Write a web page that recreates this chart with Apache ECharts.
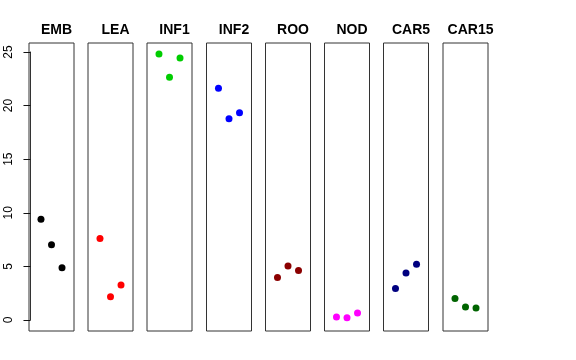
<!DOCTYPE html>
<html><head><meta charset="utf-8">
<script src="https://cdn.jsdelivr.net/npm/echarts@6/dist/echarts.min.js"></script>
<style>html,body{margin:0;padding:0;background:#fff}#c{width:576px;height:360px}</style>
</head><body><div id="c"></div>
<script>
const panels = ['EMB','LEA','INF1','INF2','ROO','NOD','CAR5','CAR15'];
const colors = ['#000000','#FF0000','#00CD00','#0000FF','#8B0000','#FF00FF','#000080','#006400'];
const xPositions = [1,2,3];
const values = [
  [9.40, 7.01, 4.87],
  [7.60, 2.17, 3.26],
  [24.82, 22.65, 24.45],
  [21.63, 18.77, 19.33],
  [3.97, 5.03, 4.62],
  [0.28, 0.21, 0.65],
  [2.94, 4.38, 5.21],
  [2.01, 1.21, 1.12]
];
const yMin = 0, yMax = 25, yStep = 5;

const lefts = [29, 88, 147, 206.5, 265.5, 324.5, 383.5, 443];
const n = panels.length;
const grids = [], xAxes = [], yAxes = [], series = [], titles = [];
// frame grids
panels.forEach((p, i) => {
  grids.push({left: lefts[i], top: 43, width: 45, height: 288, show: true, borderColor: '#333', borderWidth: 1, backgroundColor: 'transparent'});
  xAxes.push({type: 'value', gridIndex: i, min: 0, max: 1, show: false});
  yAxes.push({type: 'value', gridIndex: i, min: 0, max: 1, show: false});
});
// data grids
panels.forEach((p, i) => {
  const g = n + i;
  grids.push({left: lefts[i], top: 52, width: 45, height: 268, show: false});
  xAxes.push({type: 'value', gridIndex: g, min: -0.14, max: 4.14, show: false});
  yAxes.push({type: 'value', gridIndex: g, min: yMin, max: yMax, interval: yStep,
    show: i === 0,
    axisLine: {show: true, lineStyle: {color: '#333', width: 1}}, splitLine: {show: false},
    axisTick: {show: true, length: 7, lineStyle: {color: '#111', width: 1}},
    axisLabel: {show: true, rotate: 90, margin: 14, fontSize: 12, color: '#000', fontFamily: 'Liberation Sans'}
  });
  series.push({type: 'scatter', xAxisIndex: g, yAxisIndex: g, symbol: 'circle', symbolSize: 7, clip: false,
    itemStyle: {color: colors[i], opacity: 1}, data: xPositions.map((x, j) => [x, values[i][j]]), silent: true, animation: false});
  titles.push({text: p, left: lefts[i] + 22.5, top: 18, textAlign: 'center',
    textStyle: {fontSize: 14, fontWeight: 'bold', color: '#000', fontFamily: 'Liberation Sans'}});
});

const chart = echarts.init(document.getElementById('c'), null, {renderer: 'canvas'});
chart.setOption({animation: false, title: titles, grid: grids, xAxis: xAxes, yAxis: yAxes, series: series});
</script></body></html>
